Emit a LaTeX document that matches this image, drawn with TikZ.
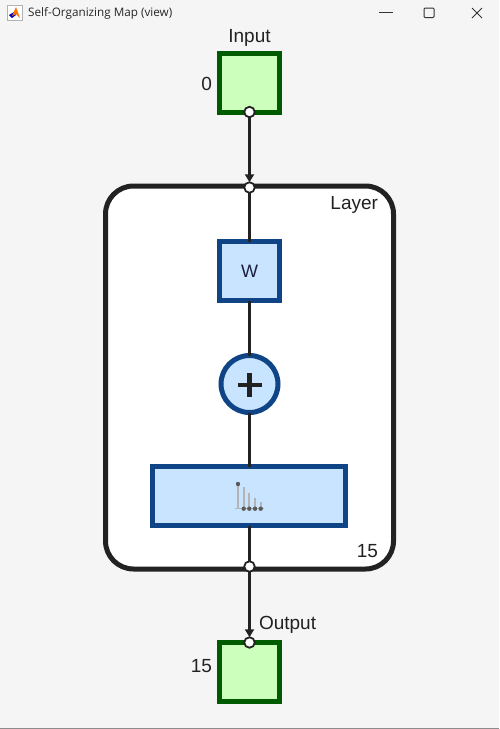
\documentclass[tikz,border=0pt]{standalone}
\usepackage{fontspec}
\setmainfont{Liberation Sans}
\newfontfamily\titlefont{Open Sans}
\usetikzlibrary{arrows.meta}
\definecolor{bgc}{HTML}{F5F5F5}
\definecolor{inkc}{HTML}{222222}
\definecolor{greenedge}{HTML}{005A00}
\definecolor{greenfill}{HTML}{CBFFBB}
\definecolor{blueedge}{HTML}{0F4487}
\definecolor{bluefill}{HTML}{C8E4FF}
\definecolor{stemc}{HTML}{B4B4B4}
\definecolor{dotc}{HTML}{5A5A5A}
\tikzset{
  x=1pt,y=-1pt,
  iobox/.style={draw=greenedge,fill=greenfill,line width=5pt,minimum width=60pt,minimum height=59pt,inner sep=0pt,outer sep=0pt},
  funcbox/.style={draw=blueedge,fill=bluefill,line width=5pt,inner sep=0pt,outer sep=0pt},
  port/.style={circle,draw=inkc,fill=white,line width=1.8pt,minimum size=10.5pt,inner sep=0pt,outer sep=0pt},
  wire/.style={draw=inkc,line width=3pt},
  awire/.style={wire,-{Triangle[length=8pt,width=9pt]}},
  lab/.style={font=\fontsize{19}{21}\selectfont,text=inkc,inner sep=0pt,outer sep=0pt},
  winbtn/.style={draw=black!80,line width=1pt},
}
\begin{document}
\begin{tikzpicture}
\useasboundingbox (0,0) rectangle (499,729);
\fill[bgc] (0,0) rectangle (499,729);
\draw[black!45,line width=1pt] (0,728) -- (499,728);
% title bar
\fill[white,draw=black!30,line width=.5pt] (7,5) rectangle (22,20);
\fill[blue!70!black] (9,15) -- (14,12) -- (16,15) -- (12,18) -- cycle;
\fill[orange!90!red] (12,16) -- (16,7) -- (20,18) -- (16,14) -- cycle;
\node[anchor=west,font=\fontsize{11.7}{14}\selectfont\titlefont,text=black!85,inner sep=0pt] (title) at (28,13) {Self-Organizing Map (view)};
\coordinate (minl) at (379,12.5); \coordinate (minr) at (393,12.5);
\draw[winbtn] (minl) -- (minr);
\draw[winbtn,rounded corners=1pt] (424,8) rectangle (434,17.5);
\coordinate (xa) at (472,8); \coordinate (xb) at (482,18); \coordinate (xc) at (482,8); \coordinate (xd) at (472,18);
\draw[winbtn] (xa) -- (xb) (xc) -- (xd);
% layer
\node[draw=inkc,fill=white,line width=5pt,rounded corners=28pt,minimum width=288pt,minimum height=383pt,inner sep=0pt,outer sep=0pt] (layer) at (249.5,377.5) {};
% blocks
\node[iobox] (input) at (249.5,83) {};
\node[iobox] (output) at (249.5,671.5) {};
\node[funcbox,minimum width=60pt,minimum height=59pt,font=\fontsize{18}{20}\selectfont,text=inkc!85!blue] (w) at (249.5,271) {W};
\node[funcbox,circle,minimum size=57pt] (sum) at (249.5,384) {};
\node[funcbox,minimum width=193pt,minimum height=59pt] (comp) at (249,496) {};
% ports
\node[port] (p1) at (249.5,112) {};
\node[port] (p2) at (249.5,187.5) {};
\node[port] (p3) at (249.5,566.5) {};
\node[port] (p4) at (249.5,642.5) {};
% wires
\draw[awire] (p1) -- (p2);
\draw[wire] (p2) -- (w);
\draw[wire] (w) -- (sum);
\draw[wire] (sum.south) -- (sum.south |- comp.north);
\draw[wire] (comp.south -| p3) -- (p3);
\draw[awire] (p3) -- (p4);
% plus
\draw[inkc,line width=4.2pt] (237.5,385) -- (261.5,385) (249.5,373) -- (249.5,397);
% compet icon
\draw[stemc,line width=1pt] (235,508.7) -- (263.5,508.7);
\foreach \xx/\yy in {238/484,243.7/487.3,249.3/492.7,255/497.7,260.7/502.3}
  \draw[stemc,line width=2.2pt] (\xx,\yy) -- (\xx,508.7);
\fill[dotc] (238,484) circle (2.2pt);
\foreach \xx in {243.7,249.3,255,260.7}
  \fill[dotc] (\xx,508.7) circle (2.2pt);
% labels
\node[lab,anchor=south] (tinput) at (249.5,46) {Input};
\node[lab,anchor=east] (t0) at (212,84) {0};
\node[lab,anchor=east] (tlayer) at (378,205) {Layer};
\node[lab,anchor=east] (t15a) at (378,551) {15};
\node[lab,anchor=west] (toutput) at (259,625) {Output};
\node[lab,anchor=east] (t15b) at (212,666) {15};
\end{tikzpicture}
\end{document}
